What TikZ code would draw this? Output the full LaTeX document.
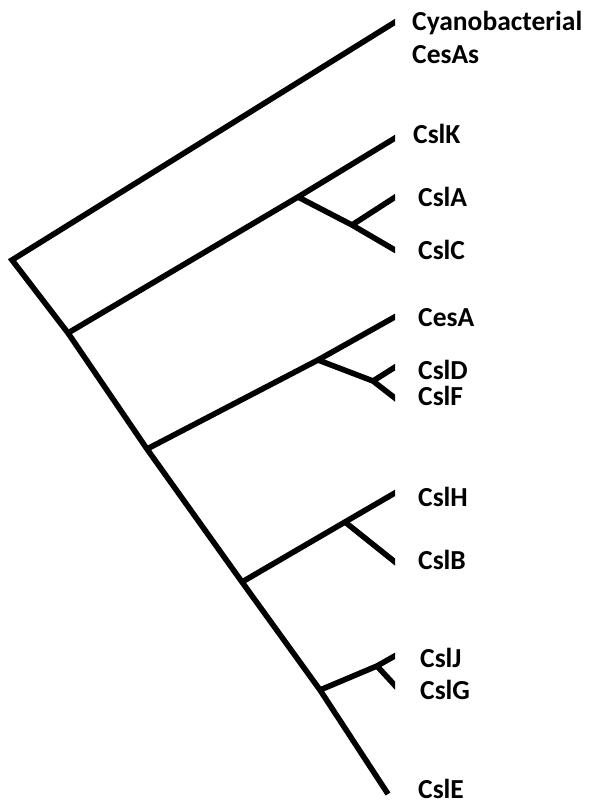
\documentclass[tikz,border=0pt]{standalone}
\usepackage{fontspec}
\setmainfont{Carlito}
\begin{document}
\begin{tikzpicture}[x=1pt,y=-1pt,
  branch/.style={line width=5.6pt,line join=miter,line cap=butt},
  leaf/.style={anchor=base west,inner sep=0pt,font=\fontsize{27.5}{33}\selectfont\bfseries,align=left}]
\useasboundingbox (0,0) rectangle (592,805);
% internal nodes
\coordinate (R)  at (12,260);
\coordinate (N1) at (68,333);
\coordinate (N2) at (147,449);
\coordinate (N3) at (242,582);
\coordinate (N4) at (320,690);
\coordinate (E)  at (388,794);
\coordinate (KA) at (298,197);
\coordinate (AC) at (352,225);
\coordinate (EA) at (318,360);
\coordinate (DF) at (373,381);
\coordinate (HB) at (345,522);
\coordinate (JG) at (377,666);
% leaf ends
\coordinate (tT) at (400,19);
\coordinate (tK) at (400,135);
\coordinate (tA) at (400,194);
\coordinate (tC) at (400,253);
\coordinate (tCe) at (400,314);
\coordinate (tD) at (400,364);
\coordinate (tF) at (400,402);
\coordinate (tH) at (400,490);
\coordinate (tB) at (400,566);
\coordinate (tJ) at (400,653);
\coordinate (tG) at (400,691);
\begin{scope}
\clip (0,0) rectangle (395,805);
\draw[branch] (tT) -- (R) -- (N1) -- (N2) -- (N3) -- (N4) -- (E);
\draw[branch] (N1) -- (KA) -- (tK);
\draw[branch] (KA) -- (AC) -- (tC);
\draw[branch] (AC) -- (tA);
\draw[branch] (N2) -- (EA) -- (tCe);
\draw[branch] (EA) -- (DF) -- (tF);
\draw[branch] (DF) -- (tD);
\draw[branch] (N3) -- (HB) -- (tH);
\draw[branch] (HB) -- (tB);
\draw[branch] (N4) -- (JG) -- (tJ);
\draw[branch] (JG) -- (tG);
\end{scope}
% labels
\node[leaf] (lT)  at (412,31) {Cyanobacterial};
\node[leaf] (lT2) at (412,64) {CesAs};
\node[leaf] (lK)  at (413,144) {CslK};
\node[leaf] (lA)  at (418,206) {CslA};
\node[leaf] (lC)  at (418,259) {CslC};
\node[leaf] (lCe) at (418,326) {CesA};
\node[leaf] (lD)  at (418,379) {CslD};
\node[leaf] (lF)  at (418,405) {CslF};
\node[leaf] (lH)  at (418,506) {CslH};
\node[leaf] (lB)  at (418,569) {CslB};
\node[leaf] (lJ)  at (420,667) {CslJ};
\node[leaf] (lG)  at (420,699) {CslG};
\node[leaf] (lE)  at (418,798) {CslE};
\end{tikzpicture}
\end{document}
